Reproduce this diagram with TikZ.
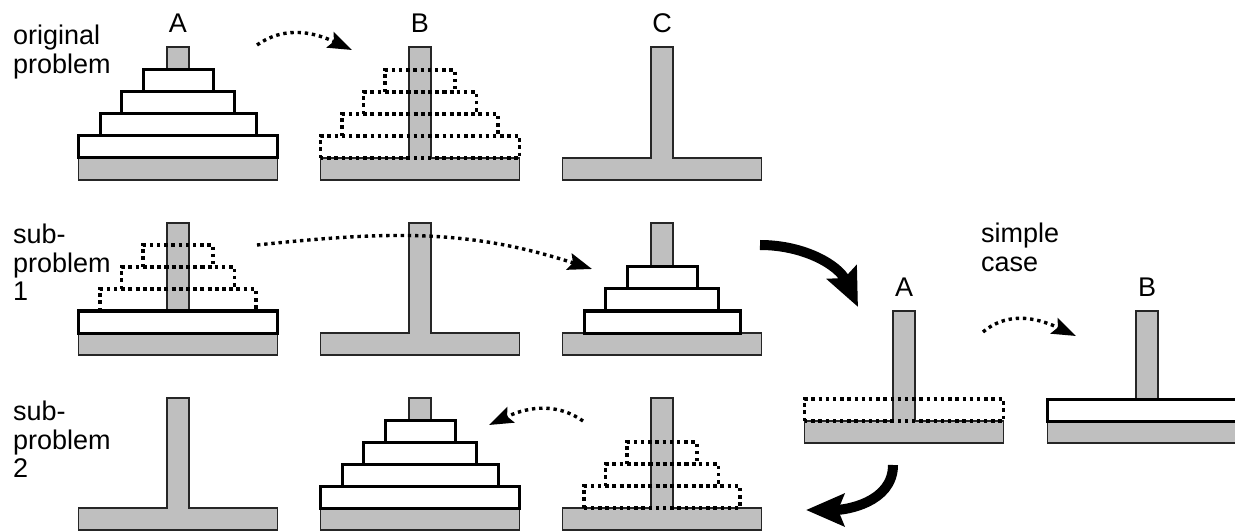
\documentclass[tikz,border=0pt]{standalone}
\usepackage{fontspec}
\setmainfont{Liberation Sans}
\usetikzlibrary{arrows.meta}
\definecolor{peggray}{gray}{0.75}
\newcommand{\peg}[3]{\filldraw[peg] (#1-99.5,#2) -- (#1+99.5,#2) -- (#1+99.5,#2+22) -- (#1+11,#2+22) -- (#1+11,#3) -- (#1-11,#3) -- (#1-11,#2+22) -- (#1-99.5,#2+22) -- cycle;}
\newcommand{\disk}[5]{\draw[#1] ({#2-99.5+21.5*(#4)},{#3+22+22*(#5)}) rectangle ({#2+99.5-21.5*(#4)},{#3+44+22*(#5)});}
\begin{document}
\begin{tikzpicture}[x=1pt, y=1pt, font=\fontsize{27}{28.5}\selectfont,
  peg/.style={fill=peggray, draw=black!85, line width=1.2pt},
  ring/.style={draw, fill=white, line width=3pt},
  ghost/.style={draw, line width=3.4pt, dash pattern=on 3.4pt off 3.8pt},
  move/.style={line width=3.4pt, dash pattern=on 3.4pt off 3.8pt, -{Stealth[length=24pt,width=17pt,inset=4pt]}},
  bigmove/.style={line width=10pt, -{Stealth[length=38pt,width=32pt,inset=6pt]}},
  caption/.style={align=left, anchor=north west, inner sep=0pt},
  pegname/.style={anchor=base, inner sep=0pt}]
 \clip (0,0) rectangle (1235,531);
 \peg{178}{351}{484} \peg{420}{351}{484} \peg{662}{351}{484}
 \peg{178}{176}{308} \peg{420}{176}{308} \peg{662}{176}{308}
 \peg{178}{1}{133} \peg{420}{1}{133} \peg{662}{1}{133}
 \peg{904}{88}{220} \peg{1147}{88}{220}
 \foreach \s in {0,...,3} {\disk{ring}{178}{351}{\s}{\s} \disk{ghost}{420}{351}{\s}{\s} \disk{ring}{420}{1}{\s}{\s}}
 \disk{ring}{178}{176}{0}{0}
 \foreach \s in {1,2,3} {\disk{ghost}{178}{176}{\s}{\s} \disk{ring}{662}{176}{\s}{\s-1} \disk{ghost}{662}{1}{\s}{\s-1}}
 \disk{ghost}{904}{88}{0}{0}
 \disk{ring}{1147}{88}{0}{0}
 \node[caption] (origlbl) at (13,506) {original\\problem};
 \node[caption] (sub1lbl) at (13,307) {sub-\\problem\\1};
 \node[caption] (sub2lbl) at (13,130) {sub-\\problem\\2};
 \node[caption] (simplelbl) at (981,308) {simple\\case};
 \node[pegname] (topA) at (178,498) {A};
 \node[pegname] (topB) at (420,498) {B};
 \node[pegname] (topC) at (662,498) {C};
 \node[pegname] (oneA) at (904,234) {A};
 \node[pegname] (oneB) at (1147,234) {B};
 \coordinate (m1s) at (257,486); \coordinate (m1e) at (352,481);
 \coordinate (m2s) at (257,286); \coordinate (m2e) at (592,262);
 \coordinate (m3s) at (983,199); \coordinate (m3e) at (1076,195);
 \coordinate (m4s) at (583,110); \coordinate (m4e) at (489,106);
 \coordinate (b1s) at (760,286); \coordinate (b1e) at (858,224);
 \coordinate (b2s) at (893,66); \coordinate (b2e) at (806,21);
 \draw[move] (m1s) to[out=35,in=155] (m1e);
 \draw[move] (m2s) to[out=6,in=162] (m2e);
 \draw[move] (m3s) to[out=40,in=155] (m3e);
 \draw[move] (m4s) to[out=145,in=25] (m4e);
 \draw[bigmove] (b1s) to[out=0,in=115] (b1e);
 \draw[bigmove] (b2s) to[out=-90,in=0] (b2e);
\end{tikzpicture}
\end{document}
